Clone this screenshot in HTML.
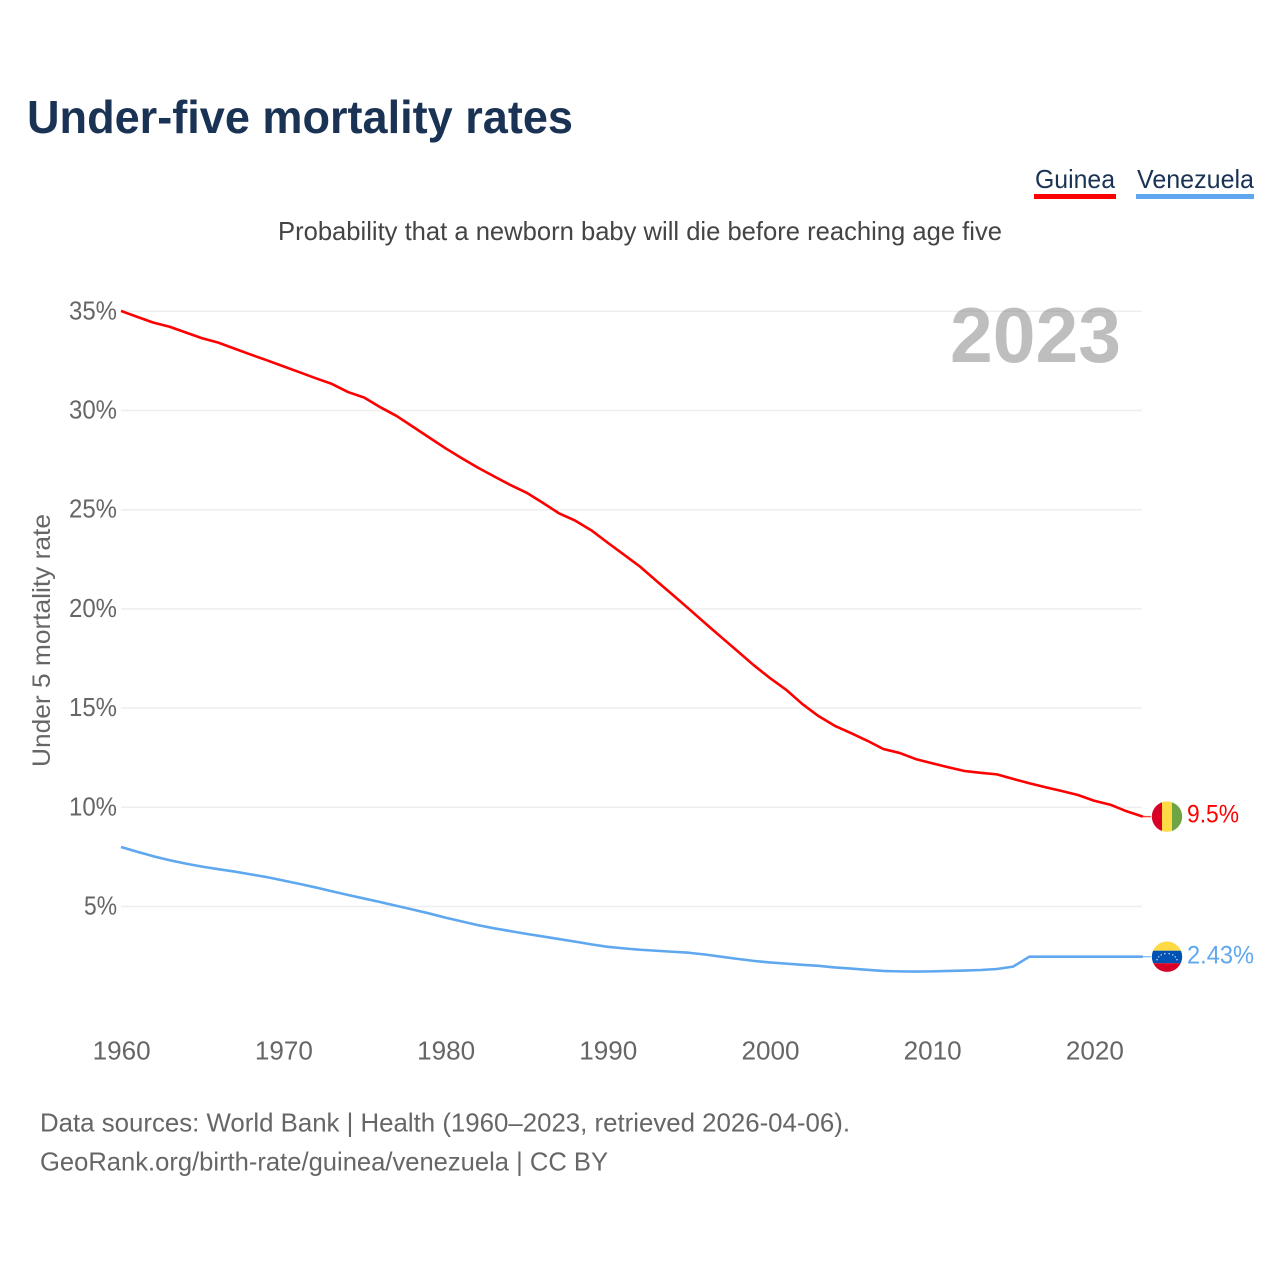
<!DOCTYPE html>
<html lang="en">
<head>
<meta charset="utf-8">
<title>Under-five mortality rates</title>
<style>
  html, body { margin: 0; padding: 0; background: #fff; }
  svg { display: block; font-family: "Liberation Sans", sans-serif; }
</style>
</head>
<body>
<svg id="chart" xmlns="http://www.w3.org/2000/svg" width="1280" height="1280" viewBox="0 0 1280 1280">
  <rect x="0" y="0" width="1280" height="1280" fill="#ffffff"/>
  <text x="27" y="133" font-size="46" font-weight="700" fill="#1a3355" textLength="546" lengthAdjust="spacingAndGlyphs">Under-five mortality rates</text>
  <text x="278" y="240" font-size="26" fill="#444444" textLength="724" lengthAdjust="spacingAndGlyphs">Probability that a newborn baby will die before reaching age five</text>
  <g>
    <text x="1035" y="188" font-size="26" fill="#1a3355" textLength="80" lengthAdjust="spacingAndGlyphs">Guinea</text>
    <rect x="1034" y="194" width="82" height="5" fill="#ff0000"/>
  </g>
  <g>
    <text x="1137" y="188" font-size="26" fill="#1a3355" textLength="117" lengthAdjust="spacingAndGlyphs">Venezuela</text>
    <rect x="1136" y="194" width="118" height="5" fill="#5fa8ef"/>
  </g>
  <g id="grid"></g>
  <g id="yticks"></g>
  <g id="xticks"></g>
  <text id="year-mark" x="950" y="362" font-size="78" font-weight="700" fill="#888888" fill-opacity="0.55" textLength="171" lengthAdjust="spacingAndGlyphs">2023</text>
  <text transform="translate(50 767) rotate(-90)" font-size="25" fill="#666666" textLength="253" lengthAdjust="spacingAndGlyphs">Under 5 mortality rate</text>
  <g id="series"></g>
  <g id="end-flag-guinea">
    <clipPath id="clip-guinea"><circle cx="0" cy="0" r="15.2"/></clipPath>
    <g clip-path="url(#clip-guinea)">
      <rect x="-16" y="-16" width="11" height="32" fill="#d80027"/>
      <rect x="-5" y="-16" width="10" height="32" fill="#ffda44"/>
      <rect x="5" y="-16" width="11" height="32" fill="#6da544"/>
    </g>
  </g>
  <g id="end-flag-venezuela">
    <clipPath id="clip-venezuela"><circle cx="0" cy="0" r="15.2"/></clipPath>
    <g clip-path="url(#clip-venezuela)">
      <rect x="-16" y="-16" width="32" height="10" fill="#ffda44"/>
      <rect x="-16" y="-6" width="32" height="12.5" fill="#0052b4"/>
      <rect x="-16" y="6.5" width="32" height="10" fill="#d80027"/>
    </g>
    <g fill="#f0f0f0">
      <circle cx="-10" cy="3" r="0.7"/><circle cx="-8.3" cy="0.2" r="0.7"/><circle cx="-5.8" cy="-1.8" r="0.7"/><circle cx="-2.2" cy="-3" r="0.7"/>
      <circle cx="2.2" cy="-3" r="0.7"/><circle cx="5.8" cy="-1.8" r="0.7"/><circle cx="8.3" cy="0.2" r="0.7"/><circle cx="10" cy="3" r="0.7"/>
    </g>
  </g>
  <text id="value-guinea" x="1187" font-size="25" fill="#ff0000" textLength="52" lengthAdjust="spacingAndGlyphs"></text>
  <text id="value-venezuela" x="1187" font-size="25" fill="#5fa8ef" textLength="67" lengthAdjust="spacingAndGlyphs"></text>
  <text x="40" y="1131.5" font-size="26" fill="#666666" textLength="810" lengthAdjust="spacingAndGlyphs">Data sources: World Bank | Health (1960–2023, retrieved 2026-04-06).</text>
  <text x="40" y="1170.5" font-size="26" fill="#666666" textLength="568" lengthAdjust="spacingAndGlyphs">GeoRank.org/birth-rate/guinea/venezuela | CC BY</text>
</svg>
<script>
const startYear = 1960;
const yTickValues = [5, 10, 15, 20, 25, 30, 35];
const yTickLabels = ["5%", "10%", "15%", "20%", "25%", "30%", "35%"];
const xTickYears = [1960, 1970, 1980, 1990, 2000, 2010, 2020];
const xTickLabels = ["1960", "1970", "1980", "1990", "2000", "2010", "2020"];
const guineaValues = [
  35.02, 34.72, 34.43, 34.22, 33.93, 33.64, 33.42, 33.12, 32.82, 32.53,
  32.23, 31.93, 31.63, 31.34, 30.93, 30.65, 30.16, 29.72, 29.18, 28.64,
  28.10, 27.60, 27.12, 26.68, 26.25, 25.86, 25.35, 24.82, 24.45, 23.96,
  23.34, 22.74, 22.13, 21.42, 20.72, 20.01, 19.29, 18.58, 17.88, 17.17,
  16.52, 15.93, 15.21, 14.60, 14.11, 13.74, 13.36, 12.94, 12.74, 12.43,
  12.22, 12.02, 11.83, 11.74, 11.66, 11.43, 11.21, 11.01, 10.82, 10.62,
  10.33, 10.13, 9.80, 9.53
];
const venezuelaValues = [
  8.00, 7.76, 7.53, 7.33, 7.16, 7.01, 6.88, 6.76, 6.62, 6.48,
  6.31, 6.14, 5.96, 5.77, 5.58, 5.40, 5.22, 5.03, 4.84, 4.65,
  4.44, 4.25, 4.06, 3.90, 3.76, 3.62, 3.49, 3.36, 3.23, 3.09,
  2.97, 2.89, 2.82, 2.77, 2.72, 2.67, 2.58, 2.47, 2.36, 2.26,
  2.18, 2.12, 2.06, 2.01, 1.93, 1.87, 1.81, 1.75, 1.73, 1.72,
  1.73, 1.75, 1.77, 1.80, 1.85, 1.97, 2.47, 2.47, 2.47, 2.47,
  2.47, 2.47, 2.47, 2.47
];
const guineaLabel = "9.5%";
const venezuelaLabel = "2.43%";

const NS = "http://www.w3.org/2000/svg";
function xScale(year) { return 121 + (year - 1960) * 16.22; }
function yScale(value) { return 1005.7 - value * 19.84; }
function make(tag, parent) {
  const el = document.createElementNS(NS, tag);
  parent.appendChild(el);
  return el;
}

const grid = document.getElementById("grid");
const yticks = document.getElementById("yticks");
yTickValues.forEach(function (v, i) {
  const line = make("line", grid);
  
  
  line.setAttribute("x1", 121);
  line.setAttribute("x2", 1142);
  line.setAttribute("y1", yScale(v));
  line.setAttribute("y2", yScale(v));
  line.setAttribute("stroke", "#eeeeee");
  line.setAttribute("stroke-width", "1.5");
  const t = make("text", yticks);
  
  
  t.setAttribute("x", 117);
  t.setAttribute("y", yScale(v) + 8);
  t.setAttribute("text-anchor", "end");
  t.setAttribute("font-size", "26");
  t.setAttribute("fill", "#666666");
  t.setAttribute("textLength", yTickLabels[i].length === 3 ? 48 : 33);
  t.setAttribute("lengthAdjust", "spacingAndGlyphs");
  t.textContent = yTickLabels[i];
});

const xticks = document.getElementById("xticks");
xTickYears.forEach(function (yr, i) {
  const t = make("text", xticks);
  
  
  t.setAttribute("x", xScale(yr) + 0.7);
  t.setAttribute("y", 1059.5);
  t.setAttribute("text-anchor", "middle");
  t.setAttribute("font-size", "26");
  t.setAttribute("fill", "#666666");
  t.setAttribute("textLength", 58);
  t.setAttribute("lengthAdjust", "spacingAndGlyphs");
  t.textContent = xTickLabels[i];
});

const seriesGroup = document.getElementById("series");
function drawSeries(values, color) {
  const points = values.map(function (v, i) {
    return xScale(startYear + i).toFixed(2) + "," + yScale(v).toFixed(2);
  });
  const path = make("polyline", seriesGroup);
  path.setAttribute("points", points.join(" "));
  path.setAttribute("fill", "none");
  path.setAttribute("stroke", color);
  path.setAttribute("stroke-width", "2.6");
  path.setAttribute("stroke-linejoin", "round");
  const last = values[values.length - 1];
  const lastX = xScale(startYear + values.length - 1);
  const stub = make("line", seriesGroup);
  stub.setAttribute("x1", lastX);
  stub.setAttribute("x2", lastX + 8);
  stub.setAttribute("y1", yScale(last));
  stub.setAttribute("y2", yScale(last));
  stub.setAttribute("stroke", color);
  stub.setAttribute("stroke-width", "1.4");
  stub.setAttribute("stroke-opacity", "0.75");
  return { path: path, stub: stub, last: last };
}
const guineaLine = drawSeries(guineaValues, "#ff0000");




const venezuelaLine = drawSeries(venezuelaValues, "#5fa8ef");





document.getElementById("end-flag-guinea").setAttribute("transform", "translate(1167 " + yScale(guineaLine.last).toFixed(2) + ")");
document.getElementById("end-flag-venezuela").setAttribute("transform", "translate(1167 " + yScale(venezuelaLine.last).toFixed(2) + ")");
const guineaText = document.getElementById("value-guinea");
guineaText.setAttribute("y", (yScale(guineaLine.last) + 6).toFixed(2));
guineaText.textContent = guineaLabel;
const venezuelaText = document.getElementById("value-venezuela");
venezuelaText.setAttribute("y", (yScale(venezuelaLine.last) + 7).toFixed(2));
venezuelaText.textContent = venezuelaLabel;
</script>
</body>
</html>
